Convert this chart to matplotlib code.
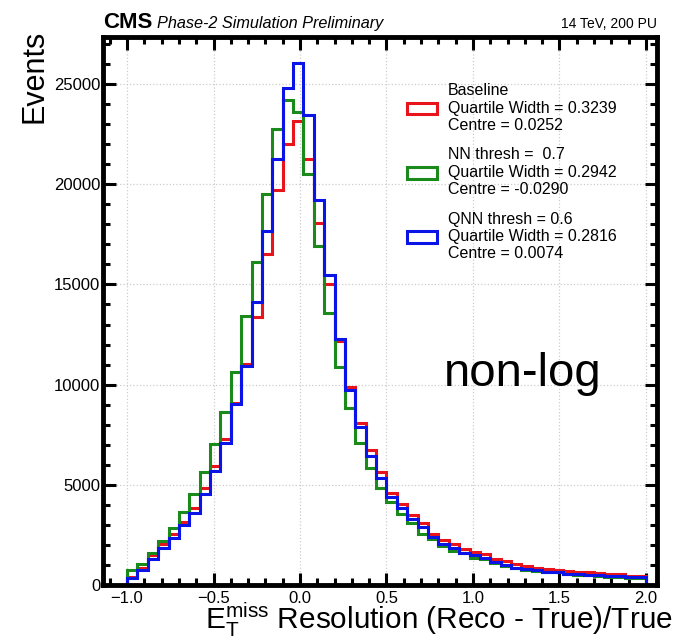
import numpy as np
import matplotlib
matplotlib.use("Agg")
import matplotlib.pyplot as plt
from matplotlib.ticker import MultipleLocator
from matplotlib.patches import Patch

plt.rcParams['font.family'] = ['Liberation Sans', 'DejaVu Sans']
plt.rcParams['mathtext.fontset'] = 'custom'
plt.rcParams['mathtext.rm'] = 'Liberation Sans'
plt.rcParams['mathtext.it'] = 'Liberation Sans:italic'
plt.rcParams['mathtext.bf'] = 'Liberation Sans:bold'

# ---- data ----
bin_low, bin_high, n_bins = -1.0, 2.0, 50

baseline = [420, 870, 1480, 2050, 2530, 3150, 3830, 4830, 5920, 7300,
            9100, 11050, 13370, 16530, 19700, 22030, 23170, 21250, 18080, 15000,
            12170, 9900, 8080, 6730, 5620, 4580, 4030, 3480, 3070, 2530,
            2230, 2070, 1780, 1650, 1570, 1280, 1200, 1030, 950, 870,
            780, 750, 700, 670, 650, 620, 570, 530, 450, 450]

nn = [750, 1070, 1580, 2200, 2830, 3620, 4530, 5620, 7030, 8620,
      10620, 13450, 16120, 19500, 22750, 24230, 23620, 20530, 16920, 13580,
      10870, 8820, 7080, 5830, 4820, 4120, 3530, 3070, 2570, 2280,
      1950, 1700, 1580, 1370, 1280, 1120, 970, 850, 760, 700,
      640, 630, 540, 500, 490, 470, 420, 400, 370, 350]

qnn = [330, 730, 1280, 1870, 2370, 2980, 3600, 4530, 5670, 7100,
       9030, 10950, 14130, 17650, 21280, 24780, 26030, 23450, 19200, 15450,
       12280, 9730, 7900, 6450, 5320, 4370, 3830, 3280, 2870, 2400,
       2030, 1830, 1620, 1480, 1330, 1150, 1000, 870, 780, 730,
       670, 660, 570, 530, 520, 500, 450, 430, 400, 380]

labels = ["Baseline\nQuartile Width = 0.3239\nCentre = 0.0252",
          "NN thresh =  0.7\nQuartile Width = 0.2942\nCentre = -0.0290",
          "QNN thresh = 0.6\nQuartile Width = 0.2816\nCentre = 0.0074"]
colors = ["#e8131b", "#1a8a1a", "#0a14e6"]

edges = np.linspace(bin_low, bin_high, n_bins + 1)

fig = plt.figure(figsize=(6.73, 6.4), dpi=100)
ax = fig.add_axes([103/673, 55/640, 554/673, 548/640])

for vals, lab, col in zip([baseline, nn, qnn], labels, colors):
    ax.stairs(vals, edges, label=lab, color=col, linewidth=2.2, baseline=0)

ax.set_xlim(-1.139, 2.064)
ax.set_ylim(0, 27350)

ax.xaxis.set_major_locator(MultipleLocator(0.5))
ax.xaxis.set_minor_locator(MultipleLocator(0.1))
ax.yaxis.set_major_locator(MultipleLocator(5000))
ax.yaxis.set_minor_locator(MultipleLocator(1000))
ax.tick_params(which='both', direction='in', top=True, right=True, labelsize=12)
ax.tick_params(which='major', length=9, width=2.2, pad=4)
ax.tick_params(which='minor', length=5, width=2.2)
ax.tick_params(axis='y', which='major', pad=2)
for s in ax.spines.values():
    s.set_linewidth(3.5)

ax.grid(True, which='major', linestyle=':', color='#cccccc', linewidth=0.9)
ax.set_axisbelow(True)

ax.set_ylabel('Events', fontsize=22, loc='top')
ax.yaxis.set_label_coords(-0.096, 1.013)
ax.set_xlabel(r'E$_{\mathrm{T}}^{\mathrm{miss}}$ Resolution (Reco - True)/True', fontsize=21.4)
ax.xaxis.set_label_coords(0.184, -0.029)
ax.xaxis.label.set_horizontalalignment('left')

ax.text(0.0, 1.016, 'CMS', transform=ax.transAxes, fontsize=16, fontweight='bold', va='baseline', ha='left')
ax.text(0.0975, 1.016, 'Phase-2 Simulation Preliminary', transform=ax.transAxes, fontsize=11.7,
        fontstyle='italic', va='baseline', ha='left')
ax.text(1.0, 1.016, '14 TeV, 200 PU', transform=ax.transAxes, fontsize=10, va='baseline', ha='right')

ax.text(0.757, 0.385, 'non-log', transform=ax.transAxes, fontsize=34, ha='center', va='center')

handles = [Patch(facecolor='white', edgecolor=c, linewidth=2.2) for c in colors]
leg = ax.legend(handles, labels, loc='upper left', bbox_to_anchor=(0.522, 0.942), frameon=False,
                fontsize=11.5, handlelength=1.9, handleheight=0.75, handletextpad=0.7,
                labelspacing=0.9)
for t in leg.get_texts():
    t.set_multialignment('left')

fig.savefig('out.png', dpi=100)
